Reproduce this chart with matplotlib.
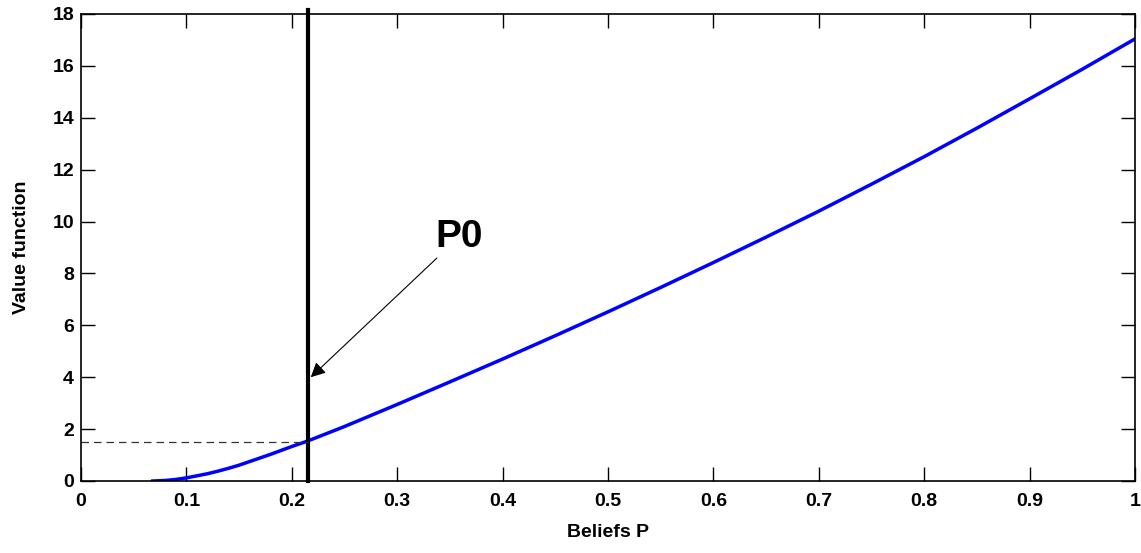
import matplotlib
matplotlib.use('Agg')
from matplotlib import pyplot as plt

plt.rcParams['font.family'] = ['Liberation Sans Narrow', 'Liberation Sans', 'DejaVu Sans']
plt.rcParams['font.weight'] = 'bold'

# value function
beliefs = [0.068, 0.08, 0.09, 0.10, 0.11, 0.12, 0.13, 0.14, 0.15, 0.16, 0.17,
           0.18, 0.19, 0.20, 0.215, 0.25, 0.30, 0.35, 0.40, 0.45, 0.50,
           0.55, 0.60, 0.65, 0.70, 0.75, 0.80, 0.85, 0.90, 0.95, 1.00]
value = [0.0, 0.02, 0.06, 0.12, 0.20, 0.28, 0.38, 0.49, 0.61, 0.75, 0.89,
         1.03, 1.18, 1.33, 1.54, 2.10, 2.95, 3.82, 4.70, 5.60, 6.52,
         7.46, 8.42, 9.40, 10.40, 11.44, 12.50, 13.60, 14.73, 15.87, 17.04]
p0 = 0.215
v0 = 1.52

fig = plt.figure(figsize=(11.41, 5.53), dpi=100)
ax = fig.add_axes([0.071, 0.1302, 0.9237, 0.8445])

ax.plot(beliefs, value, color='blue', lw=2.5)
ax.plot([p0, p0], [0, 18.15], color='black', lw=3, clip_on=False)
ax.plot([0, p0], [v0, v0], color='#333333', lw=0.9, ls=(0, (6, 4)))

ax.annotate('P0', xy=(p0 + 0.003, 4.0), xytext=(0.336, 8.7),
            fontsize=28, fontweight='bold', ha='left', va='bottom',
            arrowprops=dict(arrowstyle='-|>', color='black', lw=0.8,
                            mutation_scale=22, shrinkA=0, shrinkB=0))

ax.set_xlim(0, 1)
ax.set_ylim(0, 18)
ax.set_xticks([0, 0.1, 0.2, 0.3, 0.4, 0.5, 0.6, 0.7, 0.8, 0.9, 1])
ax.set_xticklabels(['0', '0.1', '0.2', '0.3', '0.4', '0.5', '0.6', '0.7', '0.8', '0.9', '1'])
ax.set_yticks(range(0, 19, 2))
ax.tick_params(direction='in', length=10, width=1, top=True, right=True,
               labelsize=14)
ax.tick_params(axis='x', pad=9)
ax.tick_params(axis='y', pad=5)
for s in ax.spines.values():
    s.set_linewidth(1.2)

ax.set_xlabel('Beliefs P', fontsize=14, fontweight='bold', labelpad=10)
ax.set_ylabel('Value function', fontsize=14, fontweight='bold', labelpad=16)

plt.savefig('out.png', dpi=100)
